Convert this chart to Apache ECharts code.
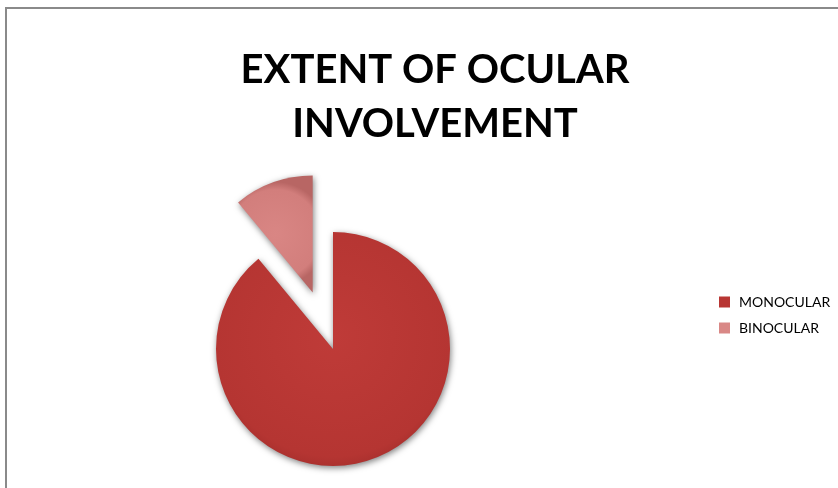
<!DOCTYPE html>
<html>
<head>
<meta charset="utf-8">
<script src="https://cdn.jsdelivr.net/npm/echarts@6/dist/echarts.min.js"></script>
<style>
html,body{margin:0;padding:0;background:#fff;}
#chart{width:838px;height:488px;}
</style>
</head>
<body>
<div id="chart"></div>
<script>
var categories = ['MONOCULAR', 'BINOCULAR'];
var values = [89, 11];
var explodedIndex = 1;
var titleText = 'EXTENT OF OCULAR\nINVOLVEMENT';

var sliceColors = [
  new echarts.graphic.RadialGradient(0.5, 0.45, 0.6, [
    {offset: 0, color: '#BF3B38'},
    {offset: 0.85, color: '#B53532'},
    {offset: 1, color: '#A02C2A'}
  ]),
  new echarts.graphic.RadialGradient(0.5, 0.5, 0.7, [
    {offset: 0, color: '#D98684'},
    {offset: 0.85, color: '#D27E7C'},
    {offset: 1, color: '#B86664'}
  ])
];
var legendColors = ['#B83633', '#D98886'];

var data = categories.map(function (c, i) {
  return {
    name: c,
    value: values[i],
    selected: i === explodedIndex,
    itemStyle: {
      color: sliceColors[i],
      shadowBlur: 6,
      shadowColor: 'rgba(0,0,0,0.5)',
      shadowOffsetX: 1,
      shadowOffsetY: 2
    }
  };
});

var chart = echarts.init(document.getElementById('chart'), null, {renderer: 'canvas'});
chart.setOption({
  animation: false,
  backgroundColor: '#ffffff',
  title: {
    text: titleText,
    left: 430,
    textAlign: 'center',
    top: 38,
    textStyle: {
      fontFamily: 'Lato',
      fontWeight: 'bold',
      fontSize: 40,
      lineHeight: 54,
      color: '#000'
    }
  },
  legend: {
    orient: 'vertical',
    left: 714,
    top: 290,
    itemWidth: 11,
    itemHeight: 11,
    itemGap: 12,
    icon: 'rect',
    selectedMode: false,
    data: categories.map(function (c, i) {
      return {name: c, itemStyle: {color: legendColors[i]}};
    }),
    textStyle: {
      fontFamily: 'Lato',
      fontSize: 14,
      color: '#000',
      padding: [0, 0, 0, 4]
    }
  },
  graphic: [{
    type: 'rect',
    silent: true,
    shape: {x: 6, y: 8, width: 900, height: 600},
    style: {fill: 'none', stroke: '#8a8a8a', lineWidth: 2}
  }],
  series: [{
    type: 'pie',
    center: [333, 349],
    radius: 117,
    startAngle: 90,
    clockwise: true,
    selectedMode: 'single',
    selectedOffset: 60,
    avoidLabelOverlap: false,
    label: {show: false},
    labelLine: {show: false},
    emphasis: {disabled: true},
    itemStyle: {borderWidth: 0},
    data: data
  }]
});
</script>
</body>
</html>
